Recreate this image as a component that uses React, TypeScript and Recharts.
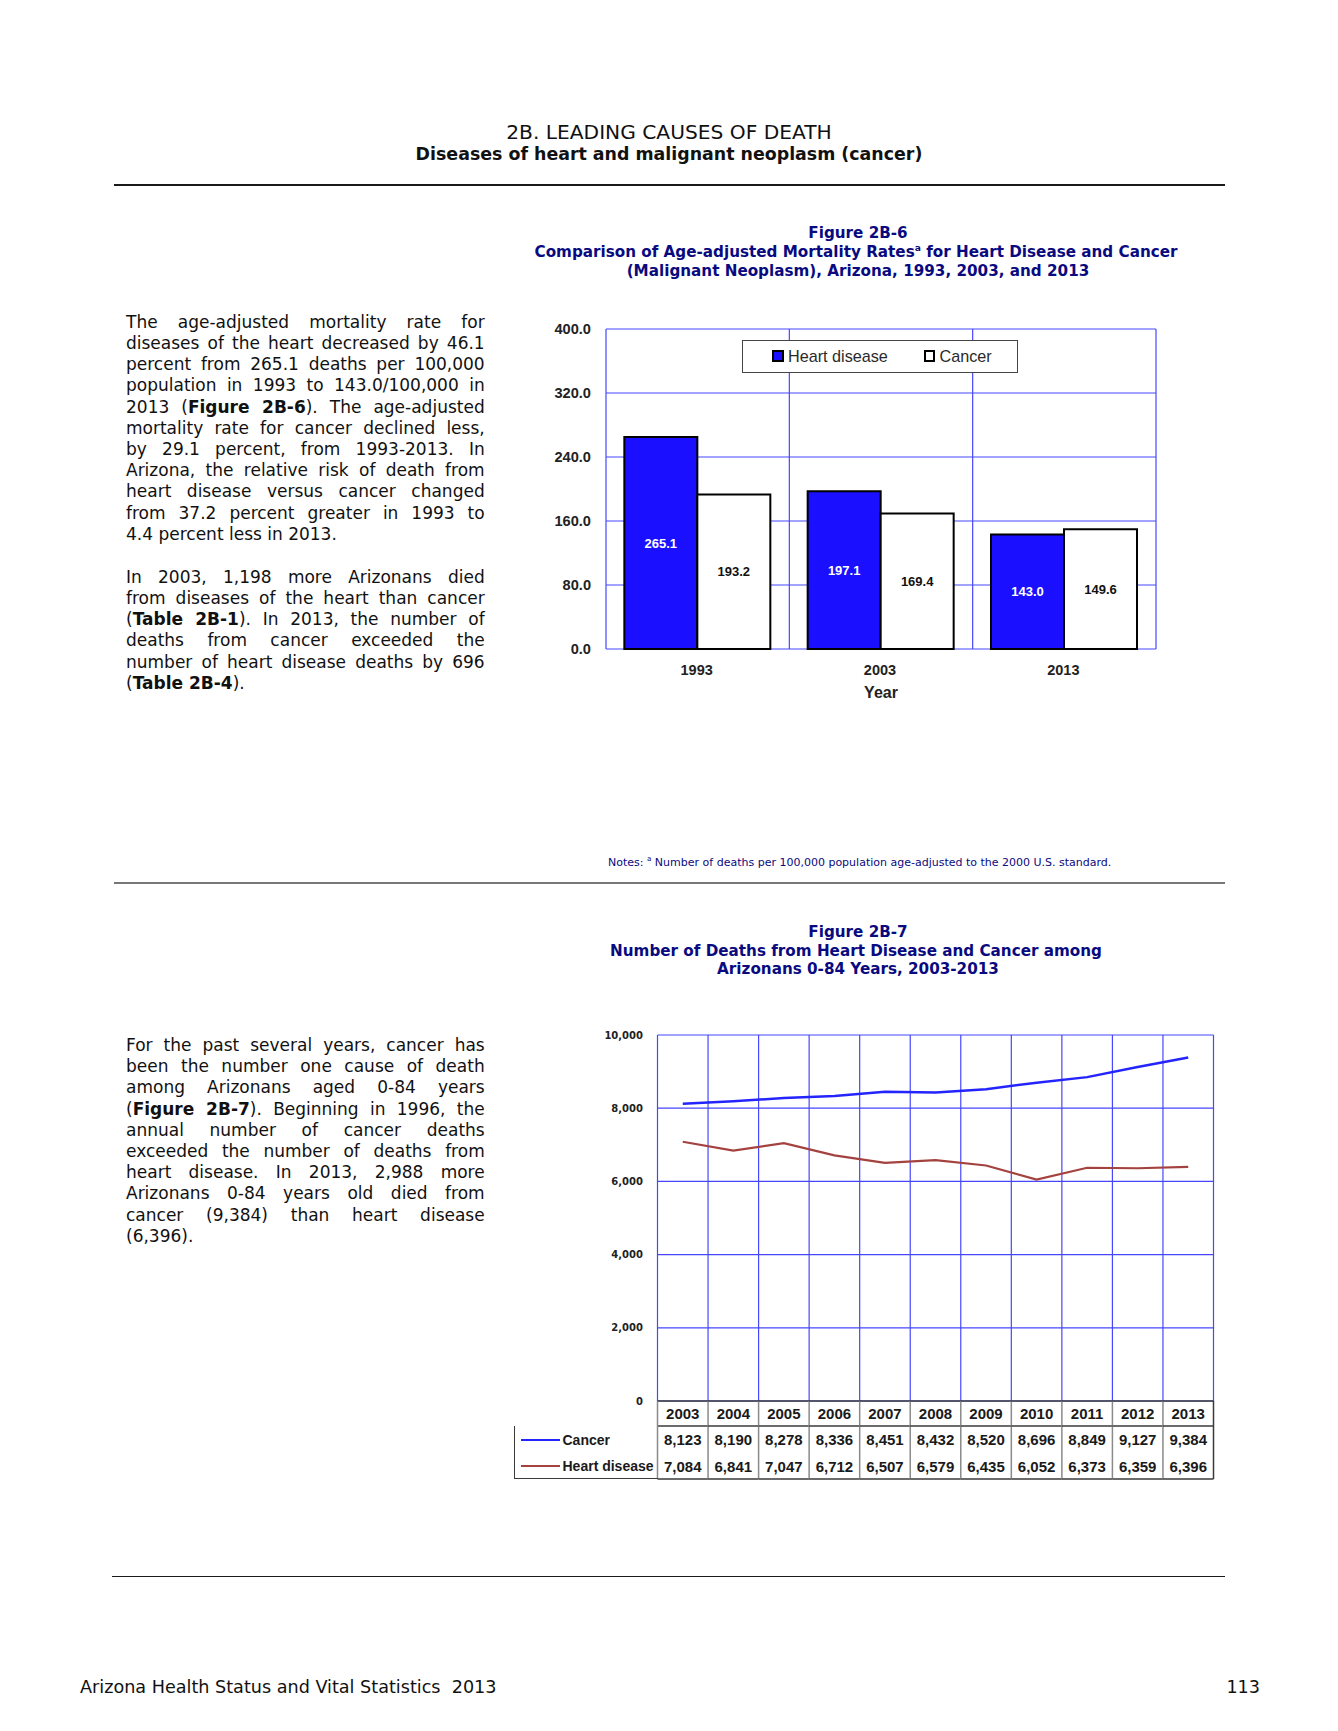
import React from 'react';
import { BarChart, Bar, XAxis, YAxis, CartesianGrid, LabelList, Legend, LineChart, Line } from 'recharts';

// ---------- Figure 2B-6 data ----------
const rateYears = ['1993', '2003', '2013'];
const heartRates = [265.1, 197.1, 143.0];
const cancerRates = [193.2, 169.4, 149.6];
const rateTicks = [0, 80, 160, 240, 320, 400];

// ---------- Figure 2B-7 data ----------
const deathYears = ['2003', '2004', '2005', '2006', '2007', '2008', '2009', '2010', '2011', '2012', '2013'];
const cancerDeaths = [8123, 8190, 8278, 8336, 8451, 8432, 8520, 8696, 8849, 9127, 9384];
const heartDeaths = [7084, 6841, 7047, 6712, 6507, 6579, 6435, 6052, 6373, 6359, 6396];
const deathTicks = [0, 2000, 4000, 6000, 8000, 10000];

const rateData = rateYears.map((year, i) => ({ year, heart: heartRates[i], cancer: cancerRates[i] }));
const deathData = deathYears.map((year, i) => ({ year, cancer: cancerDeaths[i], heart: heartDeaths[i] }));

// ---------- page text ----------
const para1 = [
  'The age-adjusted mortality rate for',
  'diseases of the heart decreased by 46.1',
  'percent from 265.1 deaths per 100,000',
  'population in 1993 to 143.0/100,000 in',
  '2013 (**Figure 2B-6**). The age-adjusted',
  'mortality rate for cancer declined less,',
  'by 29.1 percent, from 1993-2013. In',
  'Arizona, the relative risk of death from',
  'heart disease versus cancer changed',
  'from 37.2 percent greater in 1993 to',
  '4.4 percent less in 2013.',
];
const para2 = [
  'In 2003, 1,198 more Arizonans died',
  'from diseases of the heart than cancer',
  '(**Table 2B-1**). In 2013, the number of',
  'deaths from cancer exceeded the',
  'number of heart disease deaths by 696',
  '(**Table 2B-4**).',
];
const para3 = [
  'For the past several years, cancer has',
  'been the number one cause of death',
  'among Arizonans aged 0-84 years',
  '(**Figure 2B-7**). Beginning in 1996, the',
  'annual number of cancer deaths',
  'exceeded the number of deaths from',
  'heart disease. In 2013, 2,988 more',
  'Arizonans 0-84 years old died from',
  'cancer (9,384) than heart disease',
  '(6,396).',
];

const PAGE_FONT = '"DejaVu Sans", Verdana, sans-serif';
const CHART_FONT = '"Liberation Sans", Arial, sans-serif';
const NAVY = '#0a0a80';
const GRID_BLUE = '#4646ff';
const HEART_BLUE = '#1a10ff';
const CANCER_LINE = '#2424ff';
const HEART_LINE = '#a4423f';

const fmtInt = (v: number) => v.toLocaleString('en-US');

function TextLine(props: any) {
  const { x, cy, w, f = 17, align = 'left', bold = false, color = '#111', children } = props;
  const justify = align === 'justify';
  return (
    <div
      style={{
        position: 'absolute',
        left: x,
        top: cy - 0.616 * f,
        width: w,
        fontSize: f,
        lineHeight: `${1.2 * f}px`,
        textAlign: align,
        textAlignLast: justify ? 'justify' : undefined,
        fontWeight: bold ? 700 : 400,
        color,
        fontFamily: PAGE_FONT,
        whiteSpace: justify ? 'normal' : 'nowrap',
      } as React.CSSProperties}
    >
      {children}
    </div>
  );
}

function renderSegments(s: string) {
  return s.split('**').map((part, i) => (i % 2 === 1 ? <b key={i}>{part}</b> : <span key={i}>{part}</span>));
}

function Paragraph({ lines, startY }: { lines: string[]; startY: number }) {
  return (
    <>
      {lines.map((ln, i) => (
        <TextLine key={i} x={126} cy={startY + i * 21.2} w={358.7} align={i === lines.length - 1 ? 'left' : 'justify'}>
          {renderSegments(ln)}
        </TextLine>
      ))}
    </>
  );
}

function Rule({ y, x1, x2, color = '#1a1a1a', h = 1.6 }: any) {
  return <div style={{ position: 'absolute', left: x1, top: y - h / 2, width: x2 - x1, height: h, background: color }} />;
}

function orderPayload(payload: any[], keys: string[]) {
  return keys.map((k) => payload.find((e: any) => e.dataKey === k)).filter(Boolean);
}

// ---------- Figure 2B-6 chart ----------
function RateLegend(props: any) {
  const items = orderPayload(props.payload || [], ['heart', 'cancer']);
  const lefts = [29, 180.5];
  return (
    <div
      style={{
        position: 'relative',
        boxSizing: 'border-box',
        width: 276,
        height: 33,
        border: '1.5px solid #444',
        background: '#fff',
        fontFamily: CHART_FONT,
        fontSize: 16.2,
        color: '#2a2a2a',
      }}
    >
      {items.map((e: any, i: number) => (
        <div key={i} style={{ position: 'absolute', left: lefts[i], top: 0, height: 30, display: 'flex', alignItems: 'center', whiteSpace: 'nowrap' }}>
          <span
            style={{
              display: 'inline-block',
              boxSizing: 'border-box',
              width: 11.5,
              height: 11.5,
              border: '2px solid #000',
              background: e.color,
              marginRight: 4.5,
            }}
          />
          <span>{e.value}</span>
        </div>
      ))}
    </div>
  );
}

const rateValueLabel = (color: string) => (p: any) => {
  const vb = p.viewBox || p;
  const x = vb.x + vb.width / 2;
  const y = vb.y + vb.height / 2;
  return (
    <text x={x} y={y + 4.6} textAnchor="middle" fill={color} fontFamily={CHART_FONT} fontWeight={700} fontSize={13}>
      {Number(p.value).toFixed(1)}
    </text>
  );
};

function RateChart() {
  return (
    <div style={{ position: 'absolute', left: 520, top: 300 }}>
      <BarChart
        width={656}
        height={409}
        data={rateData}
        margin={{ top: 29, right: 20, bottom: 10, left: 0 }}
        barCategoryGap="10%"
        barGap={0}
      >
        <CartesianGrid
          stroke={GRID_BLUE}
          strokeWidth={1.2}
          verticalCoordinatesGenerator={({ offset }: any) =>
            [0, 1, 2, 3].map((i) => offset.left + (offset.width * i) / rateYears.length)
          }
        />
        <XAxis
          dataKey="year"
          axisLine={false}
          tickLine={false}
          tickSize={0}
          tickMargin={0}
          height={50}
          interval={0}
          tick={(p: any) => (
            <text x={p.x - 1} y={p.y + 26} textAnchor="middle" fill="#222" fontFamily={CHART_FONT} fontWeight={700} fontSize={14.5}>
              {p.payload.value}
            </text>
          )}
          label={(p: any) => {
            const vb = p.viewBox;
            return (
              <text x={vb.x + vb.width / 2} y={vb.y + 48.5} textAnchor="middle" fill="#222" fontFamily={CHART_FONT} fontWeight={700} fontSize={16}>
                Year
              </text>
            );
          }}
        />
        <YAxis
          domain={[0, 400]}
          ticks={rateTicks}
          width={86}
          axisLine={false}
          tickLine={false}
          tickSize={0}
          tickMargin={15}
          interval={0}
          tick={(p: any) => (
            <text x={p.x} y={p.y + 5.2} textAnchor="end" fill="#222" fontFamily={CHART_FONT} fontWeight={700} fontSize={14.6}>
              {Number(p.payload.value).toFixed(1)}
            </text>
          )}
        />
        <Legend
          layout="horizontal"
          verticalAlign="middle"
          align="center"
          width={276}
          height={33}
          wrapperStyle={{ left: 222, top: 40, width: 276, height: 33 }}
          content={RateLegend}
        />
        <Bar dataKey="heart" name="Heart disease" fill={HEART_BLUE} stroke="#000" strokeWidth={2} isAnimationActive={false}>
          <LabelList dataKey="heart" content={rateValueLabel('#ffffff')} />
        </Bar>
        <Bar dataKey="cancer" name="Cancer" fill="#ffffff" stroke="#000" strokeWidth={2} isAnimationActive={false}>
          <LabelList dataKey="cancer" content={rateValueLabel('#111')} />
        </Bar>
      </BarChart>
    </div>
  );
}

// ---------- Figure 2B-7 chart ----------
const DEATH_W = 724;
const DEATH_YAXIS_W = 157.5;
const DEATH_MARGIN = { top: 25, right: 10.5, bottom: 5, left: 0 };
const DEATH_BAND = (DEATH_W - DEATH_YAXIS_W - DEATH_MARGIN.right) / deathYears.length;

function TableColumn(p: any) {
  const { x, y, payload } = p;
  const i = deathYears.indexOf(payload.value);
  const l = x - DEATH_BAND / 2;
  const r = x + DEATH_BAND / 2;
  const last = i === deathYears.length - 1;
  const dark = '#3a3a3a';
  const grey = '#8a8a8a';
  const txt = { textAnchor: 'middle' as const, fill: '#1a1a1a', fontFamily: CHART_FONT, fontWeight: 700, fontSize: 15 };
  return (
    <g>
      <line x1={l} x2={r} y1={y} y2={y} stroke={dark} strokeWidth={1.5} />
      <line x1={l} x2={r} y1={y + 25} y2={y + 25} stroke={dark} strokeWidth={1.5} />
      <line x1={l} x2={r} y1={y + 78} y2={y + 78} stroke={dark} strokeWidth={1.5} />
      {i === 0 && <line x1={l} x2={l} y1={y} y2={y + 78} stroke={grey} strokeWidth={1.5} />}
      <line x1={r} x2={r} y1={y} y2={y + 78} stroke={last ? dark : grey} strokeWidth={1.5} />
      <text x={x} y={y + 18} {...txt}>{payload.value}</text>
      <text x={x} y={y + 44.3} {...txt}>{fmtInt(cancerDeaths[i])}</text>
      <text x={x} y={y + 70.8} {...txt}>{fmtInt(heartDeaths[i])}</text>
    </g>
  );
}

function RowHeader(props: any) {
  const items = orderPayload(props.payload || [], ['cancer', 'heart']);
  return (
    <div
      style={{
        position: 'relative',
        boxSizing: 'border-box',
        width: 144,
        height: 53,
        borderLeft: '1.5px solid #3a3a3a',
        borderBottom: '1.5px solid #3a3a3a',
        fontFamily: CHART_FONT,
        fontWeight: 700,
        fontSize: 14,
        color: '#1a1a1a',
      }}
    >
      {items.map((e: any, i: number) => (
        <div key={i} style={{ position: 'absolute', left: 5.5, top: i === 0 ? 3 : 29.5, height: 21, display: 'flex', alignItems: 'center', whiteSpace: 'nowrap' }}>
          <span style={{ display: 'inline-block', width: 39, height: 2, background: e.color, marginRight: 3 }} />
          <span>{e.value}</span>
        </div>
      ))}
    </div>
  );
}

function DeathChart() {
  return (
    <div style={{ position: 'absolute', left: 500, top: 1010 }}>
      <LineChart width={DEATH_W} height={476} data={deathData} margin={DEATH_MARGIN}>
        <CartesianGrid
          stroke={GRID_BLUE}
          strokeWidth={1.2}
          verticalCoordinatesGenerator={({ offset }: any) =>
            [...deathYears.map((_, i) => i), deathYears.length].map((i) => offset.left + (offset.width * i) / deathYears.length)
          }
        />
        <XAxis
          dataKey="year"
          axisLine={false}
          tickLine={false}
          tickSize={0}
          tickMargin={0}
          height={80}
          interval={0}
          padding={{ left: DEATH_BAND / 2, right: DEATH_BAND / 2 }}
          tick={(p: any) => <TableColumn {...p} />}
        />
        <YAxis
          domain={[0, 10000]}
          ticks={deathTicks}
          width={DEATH_YAXIS_W}
          axisLine={false}
          tickLine={false}
          tickSize={0}
          tickMargin={14.5}
          interval={0}
          tick={(p: any) => (
            <text x={p.x} y={p.y + 3.6} textAnchor="end" fill="#222" fontFamily={PAGE_FONT} fontWeight={700} fontSize={10}>
              {fmtInt(p.payload.value)}
            </text>
          )}
        />
        <Legend
          layout="horizontal"
          verticalAlign="middle"
          align="center"
          width={144}
          height={53}
          wrapperStyle={{ left: 14, top: 416, width: 144, height: 53 }}
          content={RowHeader}
        />
        <Line type="linear" dataKey="cancer" name="Cancer" stroke={CANCER_LINE} strokeWidth={2.5} dot={false} isAnimationActive={false} />
        <Line type="linear" dataKey="heart" name="Heart disease" stroke={HEART_LINE} strokeWidth={2.2} dot={false} isAnimationActive={false} />
      </LineChart>
    </div>
  );
}

export default function App() {
  return (
    <div style={{ position: 'absolute', left: 0, top: 0, width: 1338, height: 1731, background: '#fff', overflow: 'hidden' }}>
      <TextLine x={0} cy={132.5} w={1338} f={20.2} align="center" color="#111">2B. LEADING CAUSES OF DEATH</TextLine>
      <TextLine x={0} cy={154.5} w={1338} f={17.4} align="center" bold color="#111">Diseases of heart and malignant neoplasm (cancer)</TextLine>
      <Rule y={185} x1={114} x2={1225} />

      <TextLine x={458} cy={233.5} w={800} f={15.2} align="center" bold color={NAVY}>Figure 2B-6</TextLine>
      <TextLine x={456} cy={252.2} w={800} f={15.2} align="center" bold color={NAVY}>
        Comparison of Age-adjusted Mortality Rates<sup style={{ fontSize: '0.6em', lineHeight: 0 }}>a</sup> for Heart Disease and Cancer
      </TextLine>
      <TextLine x={458} cy={271} w={800} f={15.2} align="center" bold color={NAVY}>(Malignant Neoplasm), Arizona, 1993, 2003, and 2013</TextLine>

      <Paragraph lines={para1} startY={322.3} />
      <Paragraph lines={para2} startY={577.3} />

      <RateChart />

      <TextLine x={608} cy={862.5} w={700} f={11} color={NAVY}>
        Notes: <sup style={{ fontSize: '0.65em', lineHeight: 0 }}>a</sup> Number of deaths per 100,000 population age-adjusted to the 2000 U.S. standard.
      </TextLine>
      <Rule y={883} x1={114} x2={1225} color="#777" h={2} />

      <TextLine x={458} cy={932.5} w={800} f={15.2} align="center" bold color={NAVY}>Figure 2B-7</TextLine>
      <TextLine x={456} cy={951} w={800} f={15.2} align="center" bold color={NAVY}>Number of Deaths from Heart Disease and Cancer among</TextLine>
      <TextLine x={458} cy={969.5} w={800} f={15.2} align="center" bold color={NAVY}>Arizonans 0-84 Years, 2003-2013</TextLine>

      <Paragraph lines={para3} startY={1045.4} />

      <DeathChart />

      <Rule y={1576.5} x1={111.5} x2={1225} />
      <TextLine x={80} cy={1688} w={600} f={17.6} color="#111">Arizona Health Status and Vital Statistics&nbsp; 2013</TextLine>
      <TextLine x={1060} cy={1688} w={200} f={17.6} align="right" color="#111">113</TextLine>
    </div>
  );
}
